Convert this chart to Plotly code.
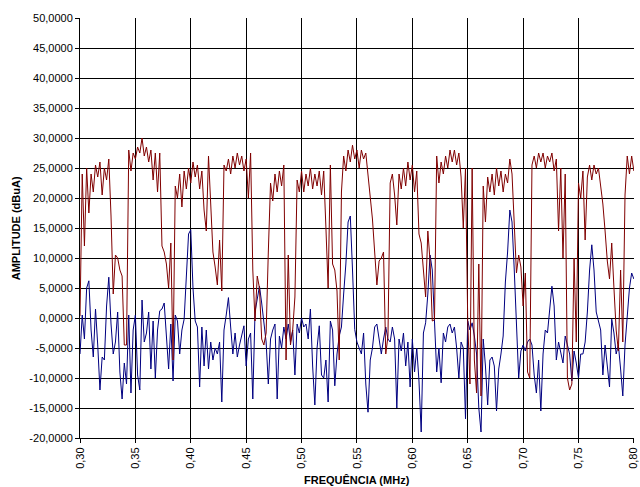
import plotly.graph_objects as go

# Sampling grid of the spectrum analyser (MHz)
FREQ_START = 0.300
FREQ_STEP = 0.002
N_POINTS = 251
freq = [round(FREQ_START + FREQ_STEP * i, 3) for i in range(N_POINTS)]

# Series 1 (dark red) amplitude, dBuA
amp_red = [
    0.3, 24, 12, 25, 17.5, 24, 21, 25.5, 23.5, 26,
    20.5, 25, 23, 26.5, 17, 4, 10.5, 10, 8, 7,
    -4.5, -4.5, 28, 24.5, 27.5, 26.5, 28.5, 27.5, 30, 27,
    28.5, 26, 28, 23, 27.5, 21, 27.5, 12, 11, 9,
    5, 12.5, -7, 22, 20, 24, 18.5, 24.5, 21.5, 25,
    22.5, 26, 23.5, 25.5, 21.5, 24.5, 18, 14.5, 27, 19,
    11, 8.5, 5.5, 13, 4.5, 25.5, 24.5, 26.5, 24, 27,
    25, 27.5, 25.5, 27, 24.5, 26.5, 20, 27.5, 8, -0.5,
    7, 5, -3.5, -4.5, -2.5, 11, 22.5, 19.5, 24, 21,
    24.5, 22, 25.5, -7, 10.5, -4.5, -2, 3.5, 23, 21,
    24.5, 21, 24, 22, 25, 21.5, 24, 22, 24.5, 20.5,
    24.5, 15, 5, 25.5, 9, 8, 4.5, -7, 21, 27,
    24.5, 28, 26, 28.8, 26.5, 28, 25, 28, 26.5, 27.5,
    24, 20, 16.5, 11, 5.5, 9.5, 10, 11, -6, -3,
    22.5, 24, 20.5, 15.5, 24, 21.5, 25, 22, 26, 23,
    25.5, 21, 24.5, 14, 12.5, 8, 3.5, 14.5, 9.5, -0.5,
    -0.3, 27, 22.5, 26, 24, 27, 25, 28, 26, 28,
    25.5, 27.5, 23.5, 15, 25, -0.5, -11, 25, -7, -12.5,
    9, -13, 22, 16, 23.5, 21, 24, 20.5, 25, 22,
    24.5, 21, 24, 22.5, 26.5, 24, 16, 7.5, 10.5, 8.5,
    2, 7.5, -9, -10, 25.5, 27, 25, 27.5, 26, 27.5,
    25, 27, 26, 27.5, 24.5, 26.5, 14.5, 25, 10, 24,
    -10, -12, -11, 10, -4, 22.5, 20, 24.5, 13, 23.5,
    25.5, 23, 25.5, 24, 25, 22, 19, 14.5, 9.5, 6.5,
    12.5, 5, -2, -5.5, 8, -4, 20.5, 27, 24, 27,
    24.5,
]

# Series 2 (navy) amplitude, dBuA
amp_blue = [
    -6, 0.5, -3.5, 5, 6.2, -2, -6.5, 1.5, -4.5, -12,
    -6.5, -7, 2, 6.8, -1, -6, -4, 1, -9, -13.5,
    -7.5, -11, 0.5, -12.5, -2, 0.5, -9.5, -12, 3, -4,
    -2.5, 1, -8.5, -0.5, -10, -2, 1.2, 1.5, 2.5, -4,
    -8.5, -1, -10.5, 0.5, -0.5, -6, -2, -0.2, 6, 14,
    14.7, 5, -0.5, -1.5, -11.5, -1.5, -8, -2, -8.5, -4,
    -7, -5, -6, -4, -14, -2, 0.5, 3.4, -1.5, -6,
    -2.5, -6.5, -4.5, -3, -1.3, -8, -3.5, -2.5, -13.5, 1,
    3.1, 5.3, 2.5, -1, -4, -11, -3.5, -2, -1, -13.5,
    -3, -5, -1.5, -3.5, -1, -4, -2, -9.5, -1, -2.5,
    0, -1.5, -1, -3.5, 1.5, -8, -14.5, -5, -1.3, -9.5,
    -10, -7, -14, -0.5, -2, -11.3, -6, -3, -1.5, 4,
    9, 16, 17, 8, -1.9, -4, -5, -6, -2.5, -11,
    -15.7, -7, -5, -1.5, -1, -3.5, -6, -3.5, -1.5, -3.5,
    -4, -1.5, -3.5, -15, -3.5, -5.5, -2.5, -8, -4, -11.5,
    -3.5, -9, -5, -10.5, -19, -2.5, -0.8, 4, 10.5, 8,
    -1, -9, -5, -10.8, -2.5, -4, -1.5, -1, -2.5, -1.5,
    -5, -10, -4, -5, -16.8, -0.5, -2, -0.8, -3, -6,
    -15, -19, -3.5, -8, -14.5, -7, -6.5, -8, -15.5, -8.5,
    -6, -3, 6, 11, 18, 16, 8, -1, -10, -5.5,
    -4.5, -5.5, -4, -3.5, -4.5, -9.5, -12.5, -7, -15.5, -6,
    -2, -2.5, 2, 5.3, 2, -7, -4, -5.5, -7.5, -3,
    -4.5, -6, -10.5, -5.5, -7.5, -10, -6, -6, -4, 1,
    8, 12.2, 8, 1, -0.5, -2, -9.5, -4.5, -8, -11.5,
    -0.2, -2.5, -6, -4.5, -8.5, -13, -4.5, 0, 5, 7.5,
    6.5,
]

# Axis ticks
x_tick_vals = [0.30, 0.35, 0.40, 0.45, 0.50, 0.55, 0.60, 0.65, 0.70, 0.75, 0.80]
x_tick_text = ["0,30", "0,35", "0,40", "0,45", "0,50", "0,55", "0,60", "0,65", "0,70", "0,75", "0,80"]
y_tick_vals = [-20, -15, -10, -5, 0, 5, 10, 15, 20, 25, 30, 35, 40, 45, 50]
y_tick_text = ["-20,0000", "-15,0000", "-10,0000", "-5,0000", "0,0000", "5,0000", "10,0000",
               "15,0000", "20,0000", "25,0000", "30,0000", "35,0000", "40,0000", "45,0000", "50,0000"]

x_title = "FREQUÊNCIA (MHz)"
y_title = "AMPLITUDE (dBuA)"

fig = go.Figure()
fig.add_trace(go.Scatter(x=freq, y=amp_blue, mode="lines",
                         line=dict(color="#000080", width=1), showlegend=False))
fig.add_trace(go.Scatter(x=freq, y=amp_red, mode="lines",
                         line=dict(color="#800000", width=1), showlegend=False))

font_family = "Liberation Sans, Arial, sans-serif"

fig.update_layout(
    width=640, height=487,
    margin=dict(l=80, r=6, t=18, b=49),
    paper_bgcolor="white", plot_bgcolor="white",
    font=dict(family=font_family, size=11, color="black"),
    showlegend=False,
    annotations=[
        dict(text="<b>" + x_title + "</b>", xref="paper", yref="paper",
             x=0.5, y=-0.1, xanchor="center", yanchor="middle", showarrow=False,
             font=dict(size=11, color="black", family=font_family)),
        dict(text="<b>" + y_title + "</b>", xref="paper", yref="paper",
             x=-0.115, y=0.5, xanchor="center", yanchor="middle", showarrow=False,
             textangle=-90, font=dict(size=11, color="black", family=font_family)),
    ],
)
fig.update_xaxes(
    range=[0.30, 0.8001], tickmode="array", tickvals=x_tick_vals, ticktext=x_tick_text,
    tickangle=-90, ticks="outside", ticklen=4, tickcolor="black",
    ticklabeloverflow="allow", automargin=False,
    showgrid=True, gridcolor="black", gridwidth=1,
    showline=True, linecolor="black", linewidth=1, zeroline=False,
    tickfont=dict(size=11, color="black"),
)
fig.update_yaxes(
    range=[-20, 50], tickmode="array", tickvals=y_tick_vals, ticktext=y_tick_text,
    ticks="outside", ticklen=4, tickcolor="black", automargin=False,
    showgrid=True, gridcolor="black", gridwidth=1,
    showline=True, linecolor="black", linewidth=1, zeroline=False,
    tickfont=dict(size=11, color="black"),
)

fig.write_html("out.html", config={"displayModeBar": False},
               post_script="document.body.style.margin='0';document.body.style.overflow='hidden';")
